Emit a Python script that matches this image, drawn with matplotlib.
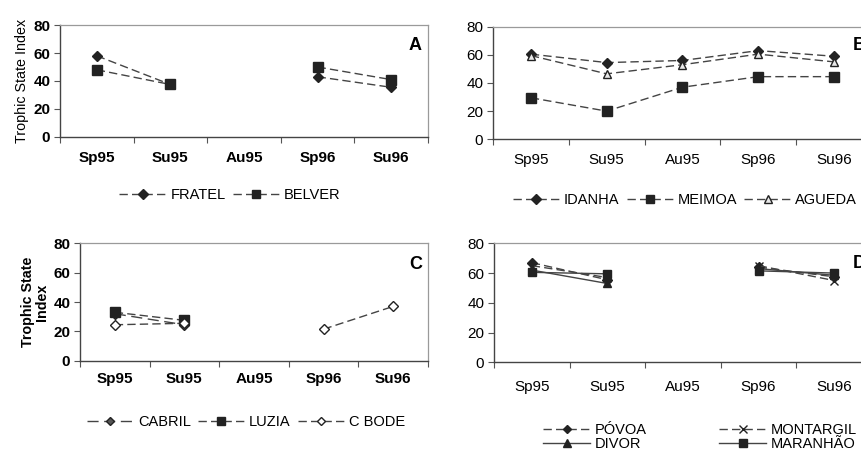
import numpy as np
import matplotlib
matplotlib.use("Agg")
import matplotlib.pyplot as plt
from matplotlib import rc

rc('font', **{'family': 'sans-serif', 'sans-serif': ['Liberation Sans', 'DejaVu Sans']})

nan = np.nan
seasons = ["Sp95", "Su95", "Au95", "Sp96", "Su96"]

# panel A
fratel = [58, 37.5, nan, 43, 35.5]
belver = [48, 37.5, nan, 50, 41]
# panel B
idanha = [60.5, 54.5, 56, 63, 59]
meimoa = [29.5, 20, 37, 44.5, 44.5]
agueda = [59.5, 46.5, 53, 60.5, 55]
# panel C
cabril = [32, 24.5, nan, nan, nan]
luzia = [33, 27.5, nan, nan, nan]
c_bode = [24.5, 25.5, nan, 21.5, 37]
# panel D
povoa = [67, 55.5, nan, 64, 57.5]
montargil = [65, 57, nan, 65, 55]
divor = [62, 53, nan, 63, 58.5]
maranhao = [60.5, 59.5, nan, 61.5, 60]

fig = plt.figure(figsize=(8.62, 4.58), dpi=100)

ink = "#222222"
dash = (0, (6, 3))
legfont = 10.5


def setup(ax, bold, pad):
    x = np.arange(len(seasons))
    ax.set_xlim(-0.5, len(seasons) - 0.5)
    ax.set_ylim(0, 80)
    ax.set_yticks([0, 20, 40, 60, 80])
    ax.set_xticks(np.arange(-0.5, len(seasons), 1))
    ax.set_xticklabels([])
    ax.set_xticks(x, minor=True)
    w = 'bold' if bold else 'normal'
    ax.set_xticklabels(seasons, minor=True, fontsize=11, fontweight=w)
    ax.tick_params(axis='x', which='minor', length=0, pad=pad)
    ax.tick_params(axis='x', which='major', length=4, direction='out', color="#555555")
    ax.tick_params(axis='y', length=4, direction='out', labelsize=11, color="#555555", pad=3)
    for lab in ax.get_yticklabels():
        lab.set_fontweight(w)
    for s in ['top', 'right']:
        ax.spines[s].set_color("#9a9a9a")
        ax.spines[s].set_linewidth(0.9)
    for s in ['left', 'bottom']:
        ax.spines[s].set_color("#444444")
        ax.spines[s].set_linewidth(1.0)


def line(ax, vals, label, marker, ls=dash, mfc=ink, ms=6.5):
    ax.plot(range(len(seasons)), vals, linestyle=ls, color="#444444", linewidth=1.0,
            marker=marker, markersize=ms, markerfacecolor=mfc, markeredgecolor=ink,
            label=label)


def legend(ax, cx, cy, ncol, **kw):
    opts = dict(loc='center', bbox_to_anchor=(cx / 862, 1 - cy / 458), bbox_transform=fig.transFigure,
                ncol=ncol, frameon=False, fontsize=legfont, handlelength=3.2, numpoints=1,
                columnspacing=0.5, handletextpad=0.3, markerscale=0.85)
    opts.update(kw)
    ax.legend(**opts)


# ---- A
axA = fig.add_axes([0.0696, 0.7009, 0.4269, 0.2445])
setup(axA, True, 10)
line(axA, fratel, "FRATEL", "D", ms=5.5)
line(axA, belver, "BELVER", "s")
axA.set_ylabel("Trophic State Index", fontsize=10.3, labelpad=3)
axA.text(0.965, 0.82, "A", transform=axA.transAxes, fontsize=13, fontweight='bold', ha='center', va='center')
legend(axA, 230, 195, 2)

# ---- B
axB = fig.add_axes([0.5719, 0.6959, 0.4397, 0.2458])
setup(axB, False, 10)
line(axB, idanha, "IDANHA", "D", ms=5.5)
line(axB, meimoa, "MEIMOA", "s")
line(axB, agueda, "AGUEDA", "^", mfc="#e8e8e8", ms=6)
axB.text(0.966, 0.835, "B", transform=axB.transAxes, fontsize=13, fontweight='bold', ha='center', va='center')
legend(axB, 685, 200, 3)

# ---- C
axC = fig.add_axes([0.0928, 0.2124, 0.4037, 0.2564])
setup(axC, True, 8)
line(axC, cabril, "CABRIL", "D", ls=(0, (8, 4)), mfc="#555555", ms=5)
line(axC, luzia, "LUZIA", "s")
line(axC, c_bode, "C BODE", "D", mfc="white", ms=5)
axC.set_ylabel("Trophic State\nIndex", fontsize=10.3, fontweight='bold', labelpad=3, linespacing=1.0)
axC.text(0.965, 0.82, "C", transform=axC.transAxes, fontsize=13, fontweight='bold', ha='center', va='center')
legend(axC, 246, 422, 3)

# ---- D
axD = fig.add_axes([0.5731, 0.2089, 0.4385, 0.2598])
setup(axD, False, 13)
line(axD, povoa, "PÓVOA", "D", ms=5)
line(axD, divor, "DIVOR", "^", ls='-', ms=6)
line(axD, montargil, "MONTARGIL", "x", ms=6)
line(axD, maranhao, "MARANHÃO", "s", ls='-', ms=6)
axD.text(0.966, 0.83, "D", transform=axD.transAxes, fontsize=13, fontweight='bold', ha='center', va='center')
legend(axD, 700, 437, 2, columnspacing=5.0, labelspacing=0.0)

fig.savefig("out.png", dpi=100)
